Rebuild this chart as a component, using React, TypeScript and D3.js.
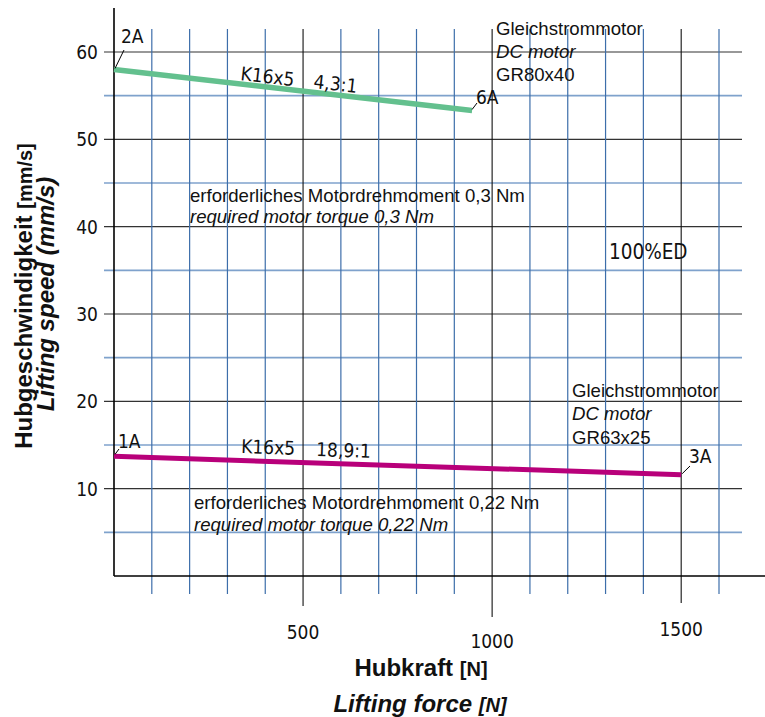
import React from "react";
import * as d3 from "d3";

const W = 765;
const H = 717;

const xTicksMajor = [500, 1000, 1500];
const xGrid = d3.range(100, 1700, 100);
const yTicksMajor = [10, 20, 30, 40, 50, 60];
const yGrid = d3.range(5, 65, 5);

const greenForce = [0, 947];
const greenSpeed = [58.0, 53.3];
const magentaForce = [0, 1500];
const magentaSpeed = [13.7, 11.6];

const DIN = "'DejaVu Sans Condensed', 'DejaVu Sans', sans-serif";
const ARIAL = "'Liberation Sans', Arial, sans-serif";

export default function App() {
  const x = d3.scaleLinear().domain([0, 1600]).range([114, 719]);
  const y = d3.scaleLinear().domain([0, 60]).range([576, 52]);
  const line = d3
    .line<[number, number]>()
    .x((d) => x(d[0]))
    .y((d) => y(d[1]));
  const green: [number, number][] = greenForce.map((f, i) => [f, greenSpeed[i]]);
  const magenta: [number, number][] = magentaForce.map((f, i) => [f, magentaSpeed[i]]);

  const xLabelDy: Record<number, number> = { 500: 632, 1000: 641, 1500: 629 };
  const xTickEnd: Record<number, number> = { 500: 606, 1000: 617, 1500: 603 };

  return (
    <svg width={W} height={H} style={{ display: "block", position: "absolute", left: 0, top: 0 }}>
      <rect width={W} height={H} fill="#fff" />
      {/* horizontal grid */}
      {yGrid.map((v) => {
        const major = v % 10 === 0;
        return (
          <line
            key={"h" + v}
            x1={104}
            x2={742}
            y1={y(v)}
            y2={y(v)}
            stroke={major ? "#333" : "#7fa2cc"}
            strokeWidth={major ? 1.1 : 1.6}
          />
        );
      })}
      {/* vertical grid */}
      {xGrid.map((v) => {
        const major = v % 500 === 0;
        return (
          <line
            key={"v" + v}
            x1={x(v)}
            x2={x(v)}
            y1={29}
            y2={major ? xTickEnd[v] : 594}
            stroke={major ? "#111" : "#3d6eaa"}
            strokeWidth={major ? 1.1 : 1.2}
          />
        );
      })}
      {/* axes */}
      <line x1={x(0)} x2={x(0)} y1={8} y2={y(0)} stroke="#000" strokeWidth={1.6} />
      <line x1={x(0)} x2={765} y1={y(0)} y2={y(0)} stroke="#000" strokeWidth={1.6} />

      {/* y tick labels */}
      {yTicksMajor.map((v) => (
        <text
          key={"yl" + v}
          x={98}
          y={y(v)}
          dy="0.36em"
          textAnchor="end"
          fontFamily={DIN}
          fontSize={19}
          fill="#111"
        >
          {v}
        </text>
      ))}
      {/* x tick labels */}
      {xTicksMajor.map((v) => (
        <text
          key={"xl" + v}
          x={x(v)}
          y={xLabelDy[v]}
          dy="0.36em"
          textAnchor="middle"
          fontFamily={DIN}
          fontSize={19}
          fill="#111"
        >
          {v}
        </text>
      ))}

      {/* data lines */}
      <path d={line(green) || ""} fill="none" stroke="#63c08e" strokeWidth={5.5} />
      <path d={line(magenta) || ""} fill="none" stroke="#b8007a" strokeWidth={5} />

      {/* leaders */}
      <line x1={x(greenForce[0]) + 1} y1={y(greenSpeed[0]) - 1} x2={124} y2={50} stroke="#000" strokeWidth={1} />
      <line x1={x(greenForce[1])} y1={y(greenSpeed[1]) - 1} x2={477} y2={103} stroke="#000" strokeWidth={1} />
      <line x1={x(magentaForce[0]) + 1} y1={y(magentaSpeed[0]) - 2} x2={119} y2={449} stroke="#000" strokeWidth={1} />
      <line x1={x(magentaForce[1]) + 1} y1={y(magentaSpeed[1]) - 1} x2={690} y2={466} stroke="#000" strokeWidth={1} />

      {/* point labels */}
      <text x={121} y={43} fontFamily={DIN} fontSize={19} fill="#111">2A</text>
      <text x={476} y={104} fontFamily={DIN} fontSize={19} fill="#111">6A</text>
      <text x={118} y={448} fontFamily={DIN} fontSize={19} fill="#111">1A</text>
      <text x={689} y={463} fontFamily={DIN} fontSize={19} fill="#111">3A</text>

      {/* gear labels */}
      <text x={240} y={80} transform="rotate(6.5 240 80)" fontFamily={DIN} fontSize={19} fill="#111">K16x5</text>
      <text x={313} y={88} transform="rotate(6.5 313 88)" fontFamily={DIN} fontSize={19} fill="#111">4,3:1</text>
      <text x={241} y={453} transform="rotate(2 241 453)" fontFamily={DIN} fontSize={19} fill="#111">K16x5</text>
      <text x={316} y={456} transform="rotate(2 316 456)" fontFamily={DIN} fontSize={19} fill="#111">18,9:1</text>
      <text x={609} y={259} fontFamily={DIN} fontSize={20.5} fill="#111">100%ED</text>

      {/* motor annotations */}
      <g fontFamily={ARIAL} fontSize={18.6} fill="#111">
        <text x={496} y={35}>Gleichstrommotor</text>
        <text x={496} y={58} fontStyle="italic">DC motor</text>
        <text x={496} y={81}>GR80x40</text>

        <text x={572} y={397}>Gleichstrommotor</text>
        <text x={572} y={420} fontStyle="italic">DC motor</text>
        <text x={572} y={444}>GR63x25</text>

        <text x={190} y={202}>erforderliches Motordrehmoment 0,3 Nm</text>
        <text x={190} y={223} fontStyle="italic">required motor torque 0,3 Nm</text>

        <text x={194} y={509}>erforderliches Motordrehmoment 0,22 Nm</text>
        <text x={194} y={531} fontStyle="italic">required motor torque 0,22 Nm</text>
      </g>

      {/* axis titles */}
      <text x={421} y={676} textAnchor="middle" fontFamily={ARIAL} fontWeight="bold" fontSize={24} fill="#111">
        Hubkraft <tspan fontSize={20}>[N]</tspan>
      </text>
      <text x={420} y={712} textAnchor="middle" fontFamily={ARIAL} fontWeight="bold" fontStyle="italic" fontSize={24} fill="#111">
        Lifting force <tspan fontSize={20}>[N]</tspan>
      </text>
      <text
        transform="translate(32 296) rotate(-90)"
        textAnchor="middle"
        fontFamily={ARIAL}
        fontWeight="bold"
        fontSize={24}
        fill="#111"
      >
        Hubgeschwindigkeit <tspan fontSize={20}>[mm/s]</tspan>
      </text>
      <text
        transform="translate(54 294) rotate(-90)"
        textAnchor="middle"
        fontFamily={ARIAL}
        fontWeight="bold"
        fontStyle="italic"
        fontSize={24}
        fill="#111"
      >
        Lifting speed (mm/s)
      </text>
    </svg>
  );
}
